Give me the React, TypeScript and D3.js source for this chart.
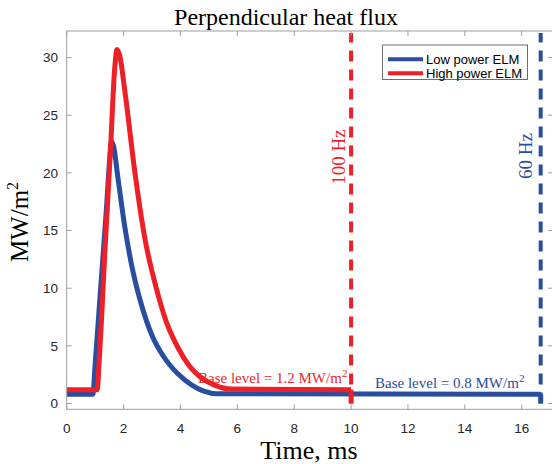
import React from "react";
import * as d3 from "d3";

// ELM pulse shapes (time in ms, flux in MW/m^2)
const lowT = [0, 0.92, 1.0, 1.2, 1.4, 1.5, 1.57, 1.65, 1.8, 2.05, 2.3, 2.6, 3.0, 3.4, 3.9, 4.4, 4.8, 5.3, 16.67];
const lowV = [0.8, 0.8, 3.4, 10.2, 17.0, 20.8, 22.7, 22.3, 19.6, 15.2, 11.8, 8.8, 5.9, 4.1, 2.6, 1.6, 1.1, 0.85, 0.8];
const highT = [0, 1.07, 1.15, 1.35, 1.55, 1.68, 1.77, 1.86, 2.05, 2.4, 2.75, 3.15, 3.5, 3.9, 4.3, 4.7, 5.2, 5.8, 10];
const highV = [1.2, 1.2, 4.0, 13.5, 22.5, 28.8, 30.7, 30.2, 27.0, 20.0, 14.3, 10.0, 7.1, 4.9, 3.3, 2.3, 1.6, 1.25, 1.2];

const freqs = [100, 60];
const baseLevels = [1.2, 0.8];
const seriesNames = ["Low power ELM", "High power ELM"];
const xTicks = [0, 2, 4, 6, 8, 10, 12, 14, 16];
const yTicks = [0, 5, 10, 15, 20, 25, 30];

const RED = "#ee1f27";
const BLUE = "#2a4e9f";
const AXIS = "#9e9e9e";
const TXT = "#262626";
const SERIF = "'Liberation Serif', 'Times New Roman', serif";
const SANS = "'Liberation Sans', Arial, sans-serif";

const W = 552;
const H = 464;

export default function App() {
  const x = d3.scaleLinear().domain([0, 17.1]).range([66.7, 553]);
  const y = d3.scaleLinear().domain([-0.5, 32.3]).range([409.3, 31]);
  const [x0, x1] = x.range();
  const [yb, yt] = y.range();

  const curve = d3
    .line<[number, number]>()
    .x((d) => x(d[0]))
    .y((d) => y(d[1]))
    .curve(d3.curveMonotoneX);
  const straight = d3
    .line<[number, number]>()
    .x((d) => x(d[0]))
    .y((d) => y(d[1]));

  const lowPts = lowT.map((t, i) => [t, lowV[i]] as [number, number]);
  const highPts = highT.map((t, i) => [t, highV[i]] as [number, number]);
  const highEnd = 1000 / freqs[0];
  const lowEnd = 1000 / freqs[1];

  return (
    <svg
      width={W}
      height={H}
      style={{ position: "absolute", left: 0, top: 0, background: "#fff" }}
    >
      <rect x={0} y={0} width={W} height={H} fill="#fff" />
      <text x={286} y={25} textAnchor="middle" fontFamily={SERIF} fontSize={24} fill="#000">
        Perpendicular heat flux
      </text>

      {/* curves */}
      <path d={curve(lowPts) || ""} fill="none" stroke={BLUE} strokeWidth={5} />
      <path
        d={straight([[lowEnd, baseLevels[1]], [lowEnd, 0]]) || ""}
        fill="none"
        stroke={BLUE}
        strokeWidth={5}
      />
      <path d={curve(highPts) || ""} fill="none" stroke={RED} strokeWidth={5} />
      <path
        d={straight([[highEnd, baseLevels[0]], [highEnd, 0]]) || ""}
        fill="none"
        stroke={RED}
        strokeWidth={5}
      />

      {/* repetition period markers */}
      <line x1={x(highEnd)} x2={x(highEnd)} y1={y(0)} y2={yt + 2} stroke={RED} strokeWidth={4} strokeDasharray="11,8" />
      <line x1={x(lowEnd)} x2={x(lowEnd)} y1={y(0)} y2={yt + 2} stroke={BLUE} strokeWidth={4} strokeDasharray="11,8" />

      <text
        transform={`translate(${x(highEnd) - 6},157) rotate(-90)`}
        textAnchor="middle"
        fontFamily={SERIF}
        fontSize={19}
        fill={RED}
      >
        {freqs[0]} Hz
      </text>
      <text
        transform={`translate(${x(lowEnd) - 9},156) rotate(-90)`}
        textAnchor="middle"
        fontFamily={SERIF}
        fontSize={19}
        fill={BLUE}
      >
        {freqs[1]} Hz
      </text>

      <text x={198} y={383} fontFamily={SERIF} fontSize={15} fill={RED}>
        Base level = {baseLevels[0]} MW/m
        <tspan fontSize={11} dy={-6}>2</tspan>
      </text>
      <text x={375} y={388} fontFamily={SERIF} fontSize={15} fill={BLUE}>
        Base level = {baseLevels[1]} MW/m
        <tspan fontSize={11} dy={-6}>2</tspan>
      </text>

      {/* axes box */}
      <rect x={x0} y={yt} width={x1 - x0} height={yb - yt} fill="none" stroke={AXIS} strokeWidth={1} />
      {xTicks.map((t) => (
        <g key={"x" + t}>
          <line x1={x(t)} x2={x(t)} y1={yb} y2={yb - 5} stroke={AXIS} />
          <line x1={x(t)} x2={x(t)} y1={yt} y2={yt + 5} stroke={AXIS} />
          <text x={x(t)} y={433} textAnchor="middle" fontFamily={SANS} fontSize={13.5} fill={TXT}>
            {t}
          </text>
        </g>
      ))}
      {yTicks.map((t) => (
        <g key={"y" + t}>
          <line x1={x0} x2={x0 + 5} y1={y(t)} y2={y(t)} stroke={AXIS} />
          <line x1={x1} x2={x1 - 5} y1={y(t)} y2={y(t)} stroke={AXIS} />
          <text x={58} y={y(t)} dy="0.36em" textAnchor="end" fontFamily={SANS} fontSize={13.5} fill={TXT}>
            {t}
          </text>
        </g>
      ))}

      <text x={309} y={459} textAnchor="middle" fontFamily={SERIF} fontSize={26} fill="#000">
        Time, ms
      </text>
      <text transform="translate(28,222) rotate(-90)" textAnchor="middle" fontFamily={SERIF} fontSize={25} fill="#000">
        MW/m
        <tspan fontSize={16} dy={-10}>2</tspan>
      </text>

      {/* legend */}
      <rect x={382.5} y={45} width={145} height={34.5} fill="#fff" stroke="#6e6e6e" strokeWidth={1} />
      {seriesNames.map((n, i) => (
        <g key={n}>
          <line x1={388} x2={423} y1={59.3 + i * 14} y2={59.3 + i * 14} stroke={i === 0 ? BLUE : RED} strokeWidth={4} />
          <text x={426} y={63.8 + i * 14} fontFamily={SANS} fontSize={13} fill="#000">
            {n}
          </text>
        </g>
      ))}
    </svg>
  );
}
